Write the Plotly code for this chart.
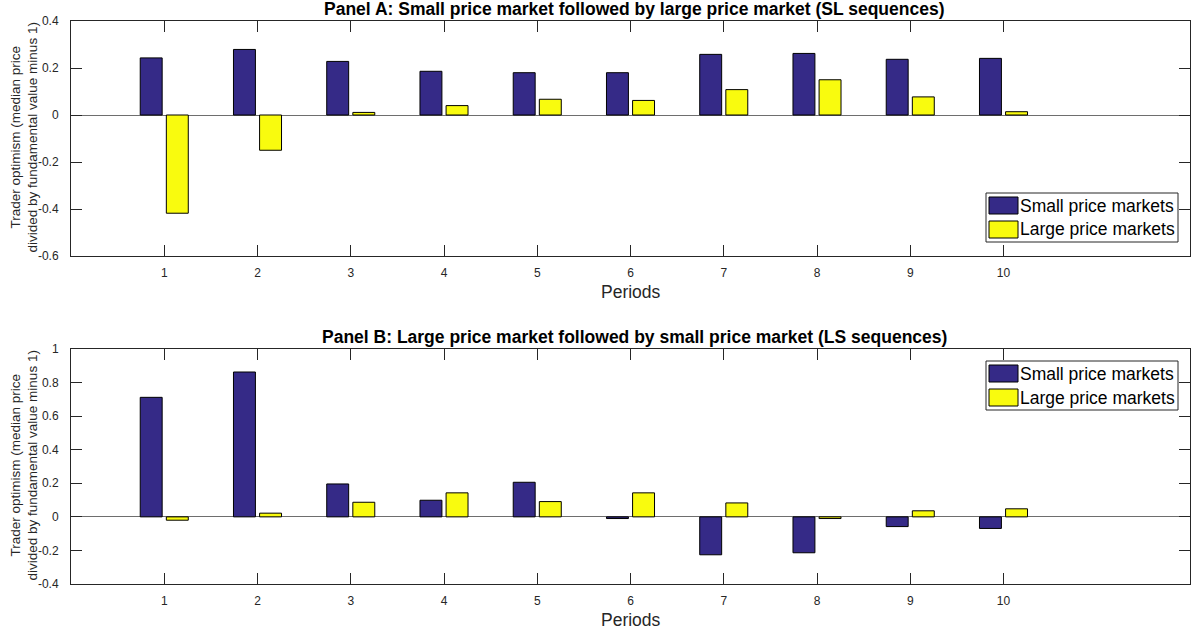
import plotly.graph_objects as go

# ---- data -----------------------------------------------------------------
periods = list(range(1, 11))

series_names = ["Small price markets", "Large price markets"]
series_colors = ["#352A87", "#F9FB0E"]

# Panel A: SL sequences
sl_small = [0.243, 0.279, 0.228, 0.186, 0.180, 0.180, 0.258, 0.262, 0.237, 0.241]
sl_large = [-0.418, -0.150, 0.011, 0.040, 0.067, 0.062, 0.108, 0.150, 0.077, 0.014]

# Panel B: LS sequences
ls_small = [0.712, 0.863, 0.196, 0.099, 0.206, -0.010, -0.226, -0.214, -0.058, -0.069]
ls_large = [-0.020, 0.022, 0.087, 0.143, 0.091, 0.143, 0.083, -0.010, 0.036, 0.048]

a_ticks = [-0.6, -0.4, -0.2, 0, 0.2, 0.4]
a_ticktext = ["-0.6", "-0.4", "-0.2", "0", "0.2", "0.4"]
b_ticks = [-0.4, -0.2, 0, 0.2, 0.4, 0.6, 0.8, 1]
b_ticktext = ["-0.4", "-0.2", "0", "0.2", "0.4", "0.6", "0.8", "1"]

title_a = "Panel A: Small price market followed by large price market (SL sequences)"
title_b = "Panel B: Large price market followed by small price market (LS sequences)"
y_label = "Trader optimism (median price<br>divided by fundamental value minus 1)"
x_label = "Periods"

# ---- page geometry (pixels) -----------------------------------------------
W, H = 1192, 634
FONT = "Arial, Liberation Sans, Helvetica, sans-serif"
INK = "#262626"
BIG = 17.5


def fx(x):
    return x / W


def fy(y):
    return 1 - y / H


left, right = 71, 1190
panels = [
    dict(top=21, bottom=256, small=sl_small, large=sl_large, ticks=a_ticks,
         ticktext=a_ticktext, rng=[-0.6, 0.4], title=title_a, legend="bottom"),
    dict(top=349, bottom=584, small=ls_small, large=ls_large, ticks=b_ticks,
         ticktext=b_ticktext, rng=[-0.4, 1.0], title=title_b, legend="top"),
]

fig = go.Figure()
layout = dict(
    width=W, height=H,
    margin=dict(l=0, r=0, t=0, b=0),
    paper_bgcolor="white", plot_bgcolor="white",
    barmode="group", bargap=0.44, bargroupgap=0.16,
    showlegend=False,
    font=dict(family=FONT, color=INK),
)
annotations = []
shapes = []

for i, p in enumerate(panels, start=1):
    sfx = "" if i == 1 else str(i)
    xa, ya = "x" + sfx, "y" + sfx
    for name, color, vals in zip(series_names, series_colors, [p["small"], p["large"]]):
        fig.add_trace(go.Bar(
            x=periods, y=vals, name=name, xaxis=xa, yaxis=ya,
            marker=dict(color=color, line=dict(color="black", width=1)),
        ))

    layout["xaxis" + sfx] = dict(
        domain=[fx(left), fx(right)], anchor=ya, range=[0, 12],
        tickvals=periods, ticks="inside", ticklen=11, tickcolor=INK,
        showline=True, linecolor=INK, linewidth=1, mirror="ticks",
        showgrid=False, zeroline=False, automargin=False,
        tickfont=dict(size=12, color=INK), ticklabelstandoff=6,
        fixedrange=True,
    )
    layout["yaxis" + sfx] = dict(
        domain=[fy(p["bottom"]), fy(p["top"])], anchor=xa, range=p["rng"],
        tickvals=p["ticks"], ticktext=p["ticktext"],
        ticks="inside", ticklen=11, tickcolor=INK,
        showline=True, linecolor=INK, linewidth=1, mirror="ticks",
        showgrid=False, zeroline=True, zerolinecolor="#6e6e6e", zerolinewidth=1.2,
        automargin=False, tickfont=dict(size=12, color=INK), ticklabelstandoff=9,
        fixedrange=True,
    )

    mid_x = (left + right) / 2
    # panel title
    annotations.append(dict(
        text="<b>" + p["title"] + "</b>", xref="paper", yref="paper",
        x=fx(mid_x + 4), y=fy(p["top"] - 12.5), xanchor="center", yanchor="middle",
        showarrow=False, font=dict(size=BIG, color="black", family=FONT),
    ))
    # x axis title
    annotations.append(dict(
        text=x_label, xref="paper", yref="paper",
        x=fx(mid_x), y=fy(p["bottom"] + 36), xanchor="center", yanchor="middle",
        showarrow=False, font=dict(size=BIG, color=INK, family=FONT),
    ))
    # y axis title
    annotations.append(dict(
        text=y_label, xref="paper", yref="paper", textangle=-90,
        x=fx(24), y=fy((p["top"] + p["bottom"]) / 2 - 1), xanchor="center", yanchor="middle",
        showarrow=False, font=dict(size=13.5, color=INK, family=FONT),
    ))

    # legend box
    lg_w, lg_h = 192, 49
    lg_right = right - 12
    lg_top = p["bottom"] - 14 - lg_h if p["legend"] == "bottom" else p["top"] + 12
    lg_left = lg_right - lg_w
    shapes.append(dict(
        type="rect", xref="paper", yref="paper",
        x0=fx(lg_left), x1=fx(lg_right), y0=fy(lg_top + lg_h), y1=fy(lg_top),
        line=dict(color=INK, width=1), fillcolor="white", layer="above",
    ))
    for k, (name, color) in enumerate(zip(series_names, series_colors)):
        row_top = lg_top + 4 + k * 24
        shapes.append(dict(
            type="rect", xref="paper", yref="paper",
            x0=fx(lg_left + 3), x1=fx(lg_left + 32),
            y0=fy(row_top + 17), y1=fy(row_top),
            line=dict(color="black", width=1), fillcolor=color, layer="above",
        ))
        annotations.append(dict(
            text=name, xref="paper", yref="paper",
            x=fx(lg_left + 32), y=fy(row_top + 8.5), xanchor="left", yanchor="middle",
            showarrow=False, font=dict(size=BIG, color="black", family=FONT),
        ))

layout["annotations"] = annotations
layout["shapes"] = shapes
fig.update_layout(**layout)

fig.write_html("out.html")
